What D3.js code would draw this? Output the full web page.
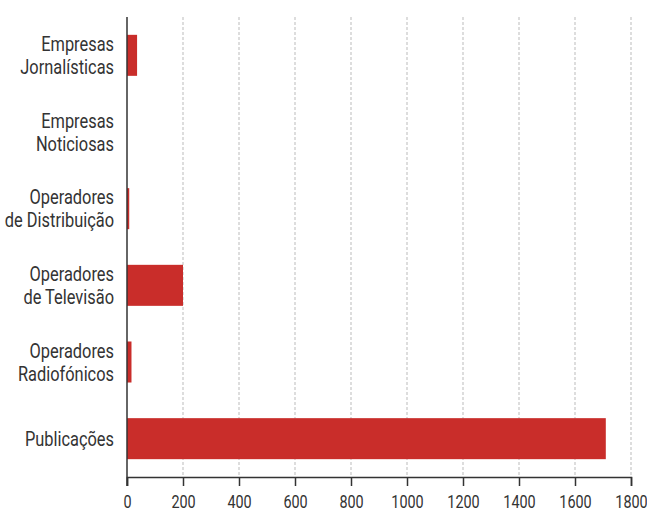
<!DOCTYPE html>
<html><head><meta charset="utf-8">
<script src="https://cdn.jsdelivr.net/npm/d3@7"></script>
<style>
body{margin:0;background:#fff;}
text{font-family:Roboto,"DejaVu Sans",sans-serif;fill:#333;}
</style></head><body>
<svg id="c" width="647" height="514"></svg>
<script>
const categories = [["Empresas","Jornalísticas"],["Empresas","Noticiosas"],["Operadores","de Distribuição"],["Operadores","de Televisão"],["Operadores","Radiofónicos"],["Publicações"]];
const values = [36, 0, 8, 200, 16, 1710];
const ticks = [0,200,400,600,800,1000,1200,1400,1600,1800];

const svg = d3.select("#c");
const m = {l:127, r:16, t:17, b:37};
const W = 647, H = 514;
const SX = 0.8;
const x = d3.scaleLinear().domain([0,1800]).range([m.l, W-m.r]);
const keys = categories.map(c=>c.join(" "));
const y = d3.scaleBand().domain(keys).range([m.t, H-m.b]).paddingInner(0.465).paddingOuter(0.2325);

// grid
svg.append("g").selectAll("line").data(ticks.slice(1)).join("line")
  .attr("x1",d=>x(d)).attr("x2",d=>x(d)).attr("y1",m.t).attr("y2",H-m.b)
  .attr("stroke","#bbb").attr("stroke-width",1).attr("stroke-dasharray","3,2");

// bars
svg.append("g").selectAll("rect").data(values).join("rect")
  .attr("x",x(0)).attr("y",(d,i)=>y(keys[i])).attr("height",y.bandwidth())
  .attr("width",d=>x(d)-x(0)).attr("fill","#c92d2a");

// x axis
const xa = svg.append("g").attr("transform",`translate(0,${H-m.b})`)
  .call(d3.axisBottom(x).tickValues(ticks).tickSize(9).tickPadding(9).tickFormat(d3.format("d")));
xa.select(".domain").attr("stroke","#333").attr("stroke-width",1.5);
xa.selectAll(".tick line").attr("stroke","#333").attr("stroke-width",1.5);
xa.selectAll("text").attr("font-size",18).attr("fill","#333")
  .style("font-family",'Roboto,"DejaVu Sans",sans-serif')
  .attr("transform",`scale(${SX},1)`);

// y axis line
svg.append("line").attr("x1",x(0)).attr("x2",x(0)).attr("y1",m.t).attr("y2",H-m.b+9)
  .attr("stroke","#333").attr("stroke-width",1.5);

// labels
const lg = svg.append("g");
categories.forEach((c,i)=>{
  const cy = y(keys[i]) + y.bandwidth()/2;
  const t = lg.append("text").attr("text-anchor","end").attr("font-size",20.5)
    .attr("transform",`translate(114,${cy}) scale(${SX},1)`);
  const n = c.length;
  c.forEach((line,j)=>{
    t.append("tspan").attr("x",0).attr("y", (j-(n-1)/2)*23 + 7).text(line);
  });
});
</script></body></html>
